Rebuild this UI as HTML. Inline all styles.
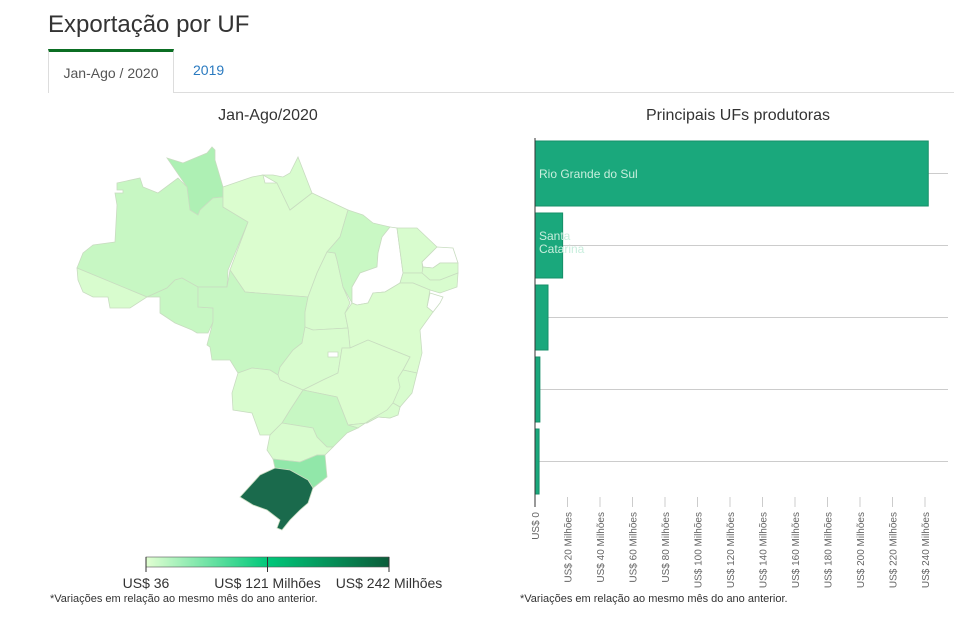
<!DOCTYPE html>
<html><head><meta charset="utf-8"><style>
body{margin:0;width:954px;height:625px;background:#fff;font-family:"Liberation Sans",sans-serif;position:relative;overflow:hidden}
.abs{position:absolute}
</style></head><body>
<div class="abs" style="left:48px;top:11px;font-size:24px;color:#333">Exportação por UF</div>
<div class="abs" style="left:48px;top:92px;width:906px;height:1px;background:#ddd"></div>
<div class="abs" style="left:48px;top:49px;width:126px;border-top:3px solid #0b6e23;border-left:1px solid #ddd;border-right:1px solid #ddd;background:#fff;box-sizing:border-box;height:44px;font-size:14px;color:#555;text-align:center;line-height:42px">Jan-Ago / 2020</div>
<div class="abs" style="left:193px;top:62px;font-size:14px;color:#2a7ac0">2019</div>
<div class="abs" style="left:168px;width:200px;text-align:center;top:107px;font-size:16px;color:#333">Jan-Ago/2020</div>
<div class="abs" style="left:588px;width:300px;text-align:center;top:107px;font-size:16px;color:#333">Principais UFs produtoras</div>
<div class="abs" style="left:50px;top:593px;font-size:11px;color:#333">*Variações em relação ao mesmo mês do ano anterior.</div>
<div class="abs" style="left:520px;top:593px;font-size:11px;color:#333">*Variações em relação ao mesmo mês do ano anterior.</div>

<svg class="abs" style="left:0;top:0" width="954" height="625" id="svg">
<defs><linearGradient id="lg" x1="0" x2="1"><stop offset="0" stop-color="#e2ffd2"/><stop offset="0.5" stop-color="#00c87a"/><stop offset="1" stop-color="#0b5c3a"/></linearGradient></defs>
<g id="map"></g>
<rect x="146" y="557" width="243" height="10" fill="url(#lg)" stroke="#555" stroke-width="0.6"/>
<g id="legend" font-size="14" fill="#333" text-anchor="middle"></g>
<g id="bars"></g>
</svg>
<script>
// Map data
const stateNames=["RR","AM","AC","RO","PA","AP","MT","TO","MA","PI","CE","RN","PB","PE","AL","BA","GO","DF","MG","ES","RJ","SP","MS","PR","SC","RS"];
const stateValues=[40,12,4,12,3,4,12,4,10,null,4,null,4,4,null,3,4,null,3,4,4,12,4,4,58,242];
const legendLabels=["US$ 36","US$ 121 Milhões","US$ 242 Milhões"];
const shapes={
RR:"167,158 183,163 207,153 212,147 215,150 215,160 223,187 223,197 213,198 200,210 198,215 190,210 187,187",
AM:"117,183 140,178 143,187 158,193 178,178 187,187 190,210 198,215 200,210 213,198 223,197 223,207 248,222 228,270 227,287 198,287 182,278 175,280 167,288 147,297 77,268 83,253 93,245 115,242 117,205 115,193 123,193 123,190 117,190",
AC:"77,268 147,297 130,308 110,308 108,297 93,297 83,292 78,280",
RO:"147,297 167,288 175,280 182,278 198,287 198,307 213,308 213,322 208,333 197,333 192,330 175,323 160,313 160,297",
PA:"223,187 252,177 263,175 265,183 277,183 290,210 312,193 348,210 340,237 327,252 317,273 308,297 245,292 230,270 248,222 223,207",
AP:"263,175 277,183 290,210 312,193 298,157 290,173 283,177 273,175",
MT:"198,287 227,287 230,270 245,292 308,297 305,312 305,327 302,343 293,350 280,367 278,375 270,370 252,368 238,373 230,360 212,360 210,347 207,345 213,322 213,308 198,307",
TO:"308,297 317,273 327,252 335,253 337,260 343,287 350,303 345,313 348,328 313,330 305,327 305,312",
MA:"327,252 340,237 348,210 363,215 373,223 390,227 382,237 378,253 377,267 360,273 352,287 352,303 343,287 337,260 335,253",
PI:"390,227 397,228 403,273 400,283 385,292 373,293 368,303 357,305 352,303 352,287 360,273 377,267 378,253 382,237",
CE:"397,228 417,228 437,247 422,262 423,273 403,273",
RN:"437,247 453,248 458,263 440,263 433,268 423,267 422,262",
PB:"423,267 433,268 440,263 458,263 458,273 440,280 430,280 422,273",
PE:"400,283 403,273 422,273 430,280 440,280 458,273 457,287 440,293 430,290 413,283",
AL:"430,293 443,297 440,303 433,312 427,307",
BA:"352,303 357,305 368,303 373,293 385,292 400,283 413,283 430,290 427,307 433,312 420,330 422,353 417,373 403,370 410,357 368,340 350,348 348,328 345,313",
GO:"305,327 313,330 348,328 350,348 342,348 338,373 323,380 303,390 280,380 278,375 280,367 293,350 302,343",
DF:"328,352 338,352 338,357 328,357",
MG:"350,348 368,340 410,357 403,370 412,378 410,393 400,407 398,415 390,418 378,417 367,423 348,425 337,397 303,390 323,380 338,373 342,348",
ES:"403,370 417,373 412,393 400,407 393,403 400,387 398,378",
RJ:"348,425 367,423 378,417 390,418 398,415 400,407 393,403 387,410 370,420 358,428",
SP:"303,390 337,397 348,425 358,428 347,433 333,447 327,447 317,437 313,428 282,423 290,410",
MS:"238,373 252,368 270,370 278,375 280,380 303,390 290,410 282,423 270,435 260,435 252,413 233,410 232,393",
PR:"282,423 313,428 317,437 327,447 333,447 325,455 317,455 300,462 273,459 267,450 270,435",
SC:"273,459 300,462 317,455 325,455 327,477 313,488 308,480 290,470 275,468",
RS:"275,468 290,470 308,480 313,488 308,503 300,510 290,520 282,530 277,528 280,520 267,510 253,505 240,497 260,475"
};
const stopV=[0,10,40,60,242];
const stopC=[[226,255,212],[201,248,196],[174,240,180],[142,230,168],[26,106,76]];
function color(v){
 if(v==null)return "#ffffff";
 for(let i=1;i<stopV.length;i++){
  if(v<=stopV[i]){const t=(v-stopV[i-1])/(stopV[i]-stopV[i-1]);
   const c=stopC[i-1].map((a,k)=>Math.round(a+(stopC[i][k]-a)*t));return `rgb(${c})`;}
 }
 return `rgb(${stopC[stopC.length-1]})`;
}
const ns="http://www.w3.org/2000/svg";
const map=document.getElementById('map');
stateNames.forEach((s,i)=>{
 const p=document.createElementNS(ns,'polygon');
 p.setAttribute('points',shapes[s]);
 p.setAttribute('fill',color(stateValues[i]));
 p.setAttribute('stroke','#c8dcc0');p.setAttribute('stroke-width','0.8');
 
 
 map.appendChild(p);
});
const lg=document.getElementById('legend');
legendLabels.forEach((l,i)=>{
 const x=146+i*121.5;
 const ln=document.createElementNS(ns,'line');
 ln.setAttribute('x1',x);ln.setAttribute('x2',x);ln.setAttribute('y1',557);ln.setAttribute('y2',572);ln.setAttribute('stroke','#333');
 
 
 lg.appendChild(ln);
 const t=document.createElementNS(ns,'text');
 t.setAttribute('x',x);t.setAttribute('y',588);t.textContent=l;
 
 
 lg.appendChild(t);
});
// Bar chart data
const barCategories=["Rio Grande do Sul","Santa Catarina","","",""];
const barValues=[242,17,8,3,2.5];
const xTicks=[0,20,40,60,80,100,120,140,160,180,200,220,240];
const xTickLabels=["US$ 0","US$ 20 Milhões","US$ 40 Milhões","US$ 60 Milhões","US$ 80 Milhões","US$ 100 Milhões","US$ 120 Milhões","US$ 140 Milhões","US$ 160 Milhões","US$ 180 Milhões","US$ 200 Milhões","US$ 220 Milhões","US$ 240 Milhões"];
const x0=535,xs=390/240,top0=138,band=72;
const X=v=>x0+v*xs;
const bars=document.getElementById('bars');
barCategories.forEach((c,i)=>{
 const y=top0+i*band;
 const g=document.createElementNS(ns,'line');
 g.setAttribute('x1',x0);g.setAttribute('x2',948);g.setAttribute('y1',y+35.5);g.setAttribute('y2',y+35.5);g.setAttribute('stroke','#ccc');
 
 
 bars.appendChild(g);
});
barCategories.forEach((c,i)=>{
 const y=top0+i*band+3;
 const r=document.createElementNS(ns,'rect');
 r.setAttribute('x',x0);r.setAttribute('y',y);r.setAttribute('width',Math.max(2,X(barValues[i])-x0));r.setAttribute('height',65);
 r.setAttribute('fill','#1aa87c');r.setAttribute('stroke','#168f68');r.setAttribute('stroke-width','1');
 
 
 bars.appendChild(r);
 if(c){
  const words=c==="Santa Catarina"?["Santa","Catarina"]:[c];
  words.forEach((w,j)=>{
   const t=document.createElementNS(ns,'text');
   t.setAttribute('x',539);t.setAttribute('y',words.length>1?y+27+j*13:y+37);
   t.setAttribute('font-size','12');t.setAttribute('fill','#c8eedd');t.textContent=w;
   
   
   bars.appendChild(t);
  });
 }
});
const ax=document.createElementNS(ns,'line');
ax.setAttribute('x1',x0);ax.setAttribute('x2',x0);ax.setAttribute('y1',138);ax.setAttribute('y2',507);ax.setAttribute('stroke','#333');


bars.appendChild(ax);
xTicks.forEach((v,i)=>{
 const x=X(v);
 const tk=document.createElementNS(ns,'line');
 tk.setAttribute('x1',x);tk.setAttribute('x2',x);tk.setAttribute('y1',497);tk.setAttribute('y2',507);tk.setAttribute('stroke',i==0?'#333':'#ccc');
 
 
 bars.appendChild(tk);
 const t=document.createElementNS(ns,'text');
 t.setAttribute('transform',`translate(${x+4},512) rotate(-90)`);
 t.setAttribute('text-anchor','end');t.setAttribute('font-size','10');t.setAttribute('fill','#666');
 t.textContent=xTickLabels[i];
 
 
 bars.appendChild(t);
});
</script>
</body></html>
